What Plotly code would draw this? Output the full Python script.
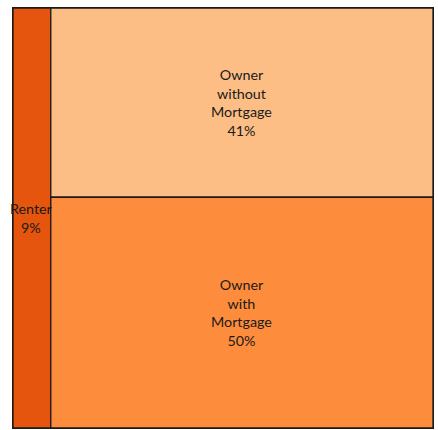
import plotly.graph_objects as go

# Data
groups = ["Renter", "Owner", "Owner"]
labels = ["Renter", "Owner<br>without<br>Mortgage", "Owner<br>with<br>Mortgage"]
shares = [9, 41, 50]
colors = ["#E6550D", "#FDBE85", "#FD8D3C"]

# Layout of the mosaic derived from the shares
renter_w = shares[0]
owner_w = shares[1] + shares[2]
x_centers = [renter_w / 2, renter_w + owner_w / 2, renter_w + owner_w / 2]
widths = [renter_w, owner_w, owner_w]
with_h = 100 * shares[2] / owner_w
without_h = 100 * shares[1] / owner_w
heights = [100, without_h, with_h]
bases = [0, with_h, 0]

fig = go.Figure()
fig.add_trace(go.Bar(
    x=x_centers, y=heights, base=bases, width=widths,
    marker=dict(color=colors, line=dict(color="#1a1a1a", width=1.3)),
    textposition="none", hoverinfo="skip", showlegend=False,
    cliponaxis=False,
))

for xc, b, h, lab, s in zip(x_centers, bases, heights, labels, shares):
    fig.add_annotation(
        x=xc, y=b + h / 2, xref="x", yref="y",
        text=f"{lab}<br>{s}%", showarrow=False,
        font=dict(family="Lato", size=14.3, color="#1a1a1a"),
        align="center",
    )

axis_style = dict(range=[0, 100], showticklabels=False, ticks="", showgrid=False,
                  zeroline=False, showline=True, mirror=True, linecolor="#1a1a1a",
                  linewidth=1.3, fixedrange=True)

fig.update_layout(
    width=438, height=430,
    margin=dict(l=13, r=5, t=8, b=2),
    paper_bgcolor="white", plot_bgcolor="white",
    bargap=0,
    xaxis=axis_style,
    yaxis=axis_style,
)

fig.write_html(
    "out.html",
    config={"displayModeBar": False, "staticPlot": True},
    post_script="document.body.style.margin='0';document.body.style.overflow='hidden';",
)
